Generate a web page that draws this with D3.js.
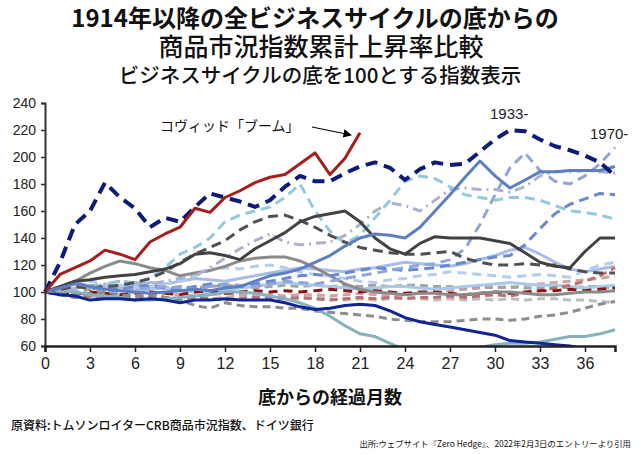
<!DOCTYPE html>
<html><head><meta charset="utf-8">
<script src="https://cdn.jsdelivr.net/npm/d3@7"></script>
<style>
html,body{margin:0;padding:0;background:#fff;}
svg{display:block;}
.jp{font-family:"Noto Sans CJK JP","Noto Sans",sans-serif;}
.num{font-family:"Liberation Sans Narrow","Liberation Sans",Arial,sans-serif;}
</style></head>
<body>
<script>
// ---------- data ----------
const months = [0,1,2,3,4,5,6,7,8,9,10,11,12,13,14,15,16,17,18,19,20,21,22,23,24,25,26,27,28,29,30,31,32,33,34,35,36,37,38];
const xTicks = [0,3,6,9,12,15,18,21,24,27,30,33,36];
const yTicks = [60,80,100,120,140,160,180,200,220,240];

const covid      = [100,113,118,123,131,128,124,137,143,148,162,159,170,175,181,185,187,195,203,187,199,218];
const c1933      = [100,122,150,160,181,170,162,148,155,152,163,173,170,167,163,168,178,186,182,182,188,193,196,192,183,191,196,194,195,204,213,220,219,213,208,205,201,196,186];
const navySolid  = [100,98,97,94,95,95,94,95,94,92,94,94,95,94,94,94,92,89,87,88,90,91,90,86,81,78,76,74,72,70,68,64,63,62,61,60,58,57,56];
const blueSolid  = [100,103,106,104,102,101,100,99,100,101,102,101,103,104,108,112,114,117,122,127,134,140,143,142,140,148,160,172,185,197,186,177,183,189,189,190,190,190,193];
const darkGrey   = [100,104,108,109,111,112,113,115,117,121,128,129,127,124,132,138,144,152,156,158,160,152,140,132,128,136,141,140,140,140,138,136,129,122,119,118,130,140,140];
const midGrey    = [100,104,108,114,119,123,121,118,116,112,114,116,119,123,125,126,126,123,118,112,106,102,100,99,98,99,99,98,98,99,100,100,99,98,98,99,100,100,101];
const teal       = [100,101,100,98,97,96,94,94,95,96,97,98,100,100,99,97,95,92,88,82,75,69,67,62,57,55,54,55,56,59,61,62,62,63,65,67,67,69,72];
const darkGreyDash=[100,102,104,103,104,105,107,110,115,122,128,133,138,146,152,156,157,153,148,142,137,133,131,129,128,128,129,130,125,122,120,120,121,120,120,117,115,114,114];
const lightCyan  = [100,102,104,103,106,108,107,110,118,128,133,140,152,157,160,163,170,180,160,145,136,142,155,168,182,186,184,178,172,170,168,170,170,168,164,160,159,157,154];
const lavender   = [100,101,102,104,106,108,107,106,108,110,112,118,125,132,138,143,137,135,136,137,142,150,160,166,164,160,168,176,177,176,176,174,178,186,189,189,190,189,188];
const c1970      = [100,102,104,103,101,100,102,103,104,103,102,104,106,105,104,106,108,107,106,108,110,112,114,116,118,120,121,124,132,150,172,192,203,190,182,180,186,195,207];
const blueDash   = [100,104,106,105,103,102,104,105,103,102,104,106,105,104,106,108,110,112,113,112,114,116,118,117,116,117,118,120,122,124,126,127,135,147,158,165,169,173,172];
const paleBlue   = [100,104,107,108,106,105,103,104,106,108,112,116,118,117,119,120,118,115,113,112,110,108,107,109,110,112,113,115,114,113,112,111,112,113,112,111,116,120,122];
const skyBlue    = [100,102,100,97,96,98,100,102,103,101,100,99,101,103,104,106,107,106,105,104,103,102,103,104,104,103,102,103,104,105,106,107,106,105,105,104,103,104,105];
const steelLight = [100,101,103,105,104,103,105,107,106,108,110,109,108,110,112,114,116,118,117,116,115,117,118,120,122,121,120,119,121,124,127,131,133,128,122,117,115,117,119];
const darkRedDash= [100,99,98,100,99,98,99,100,99,98,100,101,99,100,101,100,101,100,101,102,101,100,101,100,99,100,100,99,98,99,100,99,100,101,101,102,101,102,103];
const roseDash   = [100,98,96,97,96,95,96,97,96,95,96,95,94,95,96,95,95,96,95,94,95,96,95,96,95,96,96,97,96,97,98,97,99,101,103,105,108,112,118];
const pinkDash   = [100,101,99,98,99,98,97,98,99,98,97,98,99,98,97,98,97,98,98,97,98,99,98,97,98,99,100,101,102,103,104,103,105,106,107,108,109,110,112];
const greyDash   = [100,101,100,102,101,103,102,104,103,104,103,104,105,104,103,104,105,104,105,104,105,104,105,104,105,105,104,104,103,104,103,104,103,103,104,103,104,104,103];
const lightGreyDash=[100,99,98,97,98,97,96,97,96,95,96,95,96,97,96,95,96,95,96,95,94,95,94,95,96,95,94,95,94,95,94,95,94,95,95,94,94,93,92];
const midGreyDash= [100,99,98,99,100,98,97,98,96,94,90,88,92,90,89,89,88,88,86,85,84,83,82,80,79,78,78,78,79,80,80,79,80,82,83,85,88,91,93];

// drawing order (back to front) with styles kept apart from values
const seriesList = [
  {v: lightGreyDash, c:"#bdbdbd", w:3, d:"8,5"},
  {v: pinkDash,      c:"#d4a0a0", w:3, d:"8,5"},
  {v: greyDash,      c:"#a3a3a3", w:3, d:"8,5"},
  {v: skyBlue,       c:"#a9c9e8", w:3, d:null},
  {v: steelLight,    c:"#a8bde6", w:3, d:null},
  {v: paleBlue,      c:"#b3cdee", w:3, d:"9,6"},
  {v: roseDash,      c:"#b87070", w:3, d:"8,5"},
  {v: darkRedDash,   c:"#8e1414", w:3, d:"9,6"},
  {v: midGreyDash,   c:"#8d8d8d", w:3, d:"8,5"},
  {v: teal,          c:"#86b2bf", w:3, d:null},
  {v: navySolid,     c:"#0f2596", w:3, d:null},
  {v: midGrey,       c:"#8a8a8a", w:3, d:null},
  {v: blueDash,      c:"#6a88cf", w:3, d:"10,6"},
  {v: c1970,         c:"#90a6da", w:3, d:"10,6"},
  {v: lavender,      c:"#aeb0cf", w:3, d:"10,5,2,5"},
  {v: lightCyan,     c:"#94c8dc", w:3, d:"10,6"},
  {v: darkGreyDash,  c:"#505050", w:3, d:"10,6"},
  {v: darkGrey,      c:"#424242", w:3, d:null},
  {v: blueSolid,     c:"#5d7fc2", w:3, d:null},
  {v: c1933,         c:"#0c1a78", w:4, d:"12,7"},
  {v: covid,         c:"#a41e1e", w:3, d:null}
];

// ---------- chart ----------
const W = 640, H = 454;
const svg = d3.select("body").append("svg").attr("width", W).attr("height", H);

const x = d3.scaleLinear().domain([0, 38]).range([45, 615]);
const y = d3.scaleLinear().domain([60, 240]).range([346, 103]);

// titles
svg.append("text").attr("class","jp").attr("x",315).attr("y",27).attr("text-anchor","middle")
  .attr("font-size",24).attr("font-weight","bold").attr("fill","#111")
  .text("1914年以降の全ビジネスサイクルの底からの");
svg.append("text").attr("class","jp").attr("x",321).attr("y",56).attr("text-anchor","middle")
  .attr("font-size",25).attr("font-weight","500").attr("fill","#111")
  .text("商品市況指数累計上昇率比較");
svg.append("text").attr("class","jp").attr("x",320).attr("y",83).attr("text-anchor","middle")
  .attr("font-size",20.5).attr("font-weight","500").attr("fill","#111")
  .text("ビジネスサイクルの底を100とする指数表示");

svg.append("defs").append("clipPath").attr("id","plotclip")
  .append("rect").attr("x",40).attr("y",95).attr("width",590).attr("height",251);
svg.select("defs").append("marker").attr("id","arr").attr("viewBox","0 0 10 10")
  .attr("refX",9).attr("refY",5).attr("markerWidth",7).attr("markerHeight",7)
  .attr("orient","auto").append("path").attr("d","M0,0L10,5L0,10z").attr("fill","#000");

const line = d3.line().x((d,i)=>x(months[i])).y(d=>y(d));
const g = svg.append("g").attr("clip-path","url(#plotclip)");
seriesList.forEach(s=>{
  g.append("path").datum(s.v).attr("d",line).attr("fill","none")
   .attr("stroke",s.c).attr("stroke-width",s.w)
   .attr("stroke-dasharray",s.d).attr("stroke-linejoin","round");
});

// axes
const yAxis = d3.axisLeft(y).tickValues(yTicks).tickSize(4).tickPadding(5);
const yg = svg.append("g").attr("transform","translate(45,0)").call(yAxis);
yg.select(".domain").attr("stroke","#333").attr("stroke-width",2);
yg.selectAll(".tick line").attr("stroke","#333").attr("stroke-width",1.5);
yg.selectAll(".tick text").attr("class","num").attr("font-size",14).attr("fill","#222");

const xAxis = d3.axisBottom(x).tickValues(xTicks).tickSize(6).tickPadding(6);
const xg = svg.append("g").attr("transform","translate(0,346)").call(xAxis);
xg.select(".domain").attr("stroke","#222").attr("stroke-width",2.5);
xg.selectAll(".tick line").attr("stroke","#222").attr("stroke-width",1.5);
xg.selectAll(".tick text").attr("class","num").attr("font-size",16).attr("fill","#222");

// annotations
svg.append("text").attr("class","jp").attr("x",160).attr("y",131).attr("font-size",14)
  .attr("fill","#111").text("コヴィッド「ブーム」");
svg.append("line").attr("x1",312).attr("y1",127).attr("x2",351).attr("y2",135)
  .attr("stroke","#000").attr("stroke-width",1.2).attr("marker-end","url(#arr)");
svg.append("text").attr("class","num").attr("x",490).attr("y",119).attr("font-size",15)
  .attr("fill","#222").text("1933-");
svg.append("text").attr("class","num").attr("x",590).attr("y",139).attr("font-size",15)
  .attr("fill","#222").text("1970-");

svg.append("text").attr("class","jp").attr("x",330).attr("y",404).attr("text-anchor","middle")
  .attr("font-size",18).attr("font-weight","bold").attr("fill","#111").text("底からの経過月数");
svg.append("text").attr("class","jp").attr("x",11).attr("y",430).attr("font-size",12)
  .attr("font-weight","500").attr("fill","#111").text("原資料:トムソンロイターCRB商品市況指数、ドイツ銀行");
svg.append("text").attr("class","jp").attr("x",631).attr("y",447).attr("text-anchor","end")
  .attr("font-size",8.4).attr("fill","#111")
  .text("出所:ウェブサイト『Zero Hedge』、2022年2月3日のエントリーより引用");
</script>
</body></html>
